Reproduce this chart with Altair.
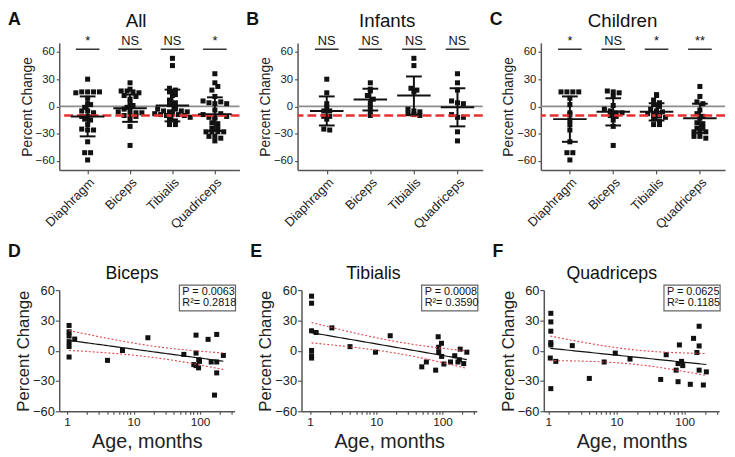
import json
import numpy as np
import pandas as pd
import altair as alt

FONT = "Liberation Sans"

# ---------------- data: group scatter panels ----------------
muscles = ["Diaphragm", "Biceps", "Tibialis", "Quadriceps"]
threshold = -10
sig_y = 63

inf_diaphragm = [30, 15, 3, -1, -5, -5, -11, -11, -14, -25, -26]
inf_biceps = [26, 19, 17, 12, 8, 4, -1, -6, -10]
inf_tibialis = [53, 45, 20, 18, 16, -3, -5, -6, -8, -9, -10]
inf_quadriceps = [36, 26, 18, 6, 4, 3, -9, -12, -12, -28, -38]

chi_diaphragm = [16, 16, 16, 16, 9, 2, -7, -9, -15, -20, -26, -39, -51, -51, -59]
chi_biceps = [17, 16, 15, 11, 1, -3, -5, -7, -7, -10, -11, -15, -22, -43]
chi_tibialis = [13, 12, 7, 4, 2, 0, -3, -5, -6, -8, -9, -10, -12, -14, -16, -20, -20]
chi_quadriceps = [22, 11, 5, 3, -4, -8, -11, -13, -18, -19, -24, -24, -28, -28, -28, -33, -33, -35]

all_mean = [-11, -2, 1, -8.5]
all_sd = [22, 15, 17.5, 18.5]
inf_mean = [-5, 7.5, 12, -1]
inf_sd = [16, 12, 21, 21]
chi_mean = [-14, -6, -6, -13]
chi_sd = [25, 15, 9.5, 16]

all_sig = ["*", "NS", "NS", "*"]
inf_sig = ["NS", "NS", "NS", "NS"]
chi_sig = ["*", "NS", "*", "**"]

# ---------------- data: regression panels ----------------
biceps_age = [1.07, 1.07, 1.07, 1.07, 1.07, 1.07, 1.3, 4.05, 6.8, 16.4, 57, 87, 87, 80.5, 87,
              95.5, 98, 95, 132, 147, 178, 178, 178, 165, 224]
biceps_pct = [25, 18.7, 14.5, 8.9, 4.1, -6.3, 11.5, -9.6, 0.2, 12.8, -3.7, 15.4, -2.4, -13.8, -14.8,
              -9, -10.6, -17, 11.2, -11.2, 16.1, -11.2, -22, -44, -4.7]

tibialis_age = [1.05, 1.05, 1.05, 1.23, 1.05, 1.05, 1.05, 2.13, 4.0, 9.7, 16.2, 48.6, 57, 78.7,
                86, 87.6, 96.6, 87.6, 97, 105, 132, 153, 171, 180, 185, 209, 233]
tibialis_pct = [54, 47, 19.7, 18, 0.2, -5, -7.3, 22.6, 4, -1.5, 14.8, -16, -11.2, -19.3,
                13.8, 3.4, 7.3, -1.5, -5.7, -13.2, -11.2, -5, -11.2, -9, 1.5, -12.8, -1.5]

quadriceps_age = [1.09, 1.09, 1.09, 1.09, 1.09, 1.07, 1.29, 1.09, 2.25, 4.0, 6.6, 9.6, 15.8, 44.5,
                  53.6, 83.7, 75, 80, 80, 90, 93.7, 135, 151, 163, 163, 163, 121, 188, 208]
quadriceps_pct = [37, 28.5, 19.3, 8, 5.7, -7.3, -10.6, -37.6, 5, -27.5, -11.2, -2.4, -8.3, -28.5,
                  -4, 5.7, -19.3, -12.8, -30.7, -10.6, -14.8, 12.2, -1.8, 24.2, 4.7, -19.3, -33.3, -34, -21]

stats_text = {
    "Biceps": ("P = 0.0063", "R\u00b2= 0.2818"),
    "Tibialis": ("P = 0.0008", "R\u00b2= 0.3590"),
    "Quadriceps": ("P = 0.0625", "R\u00b2= 0.1185"),
}

# ---------------- helpers ----------------
XMIN, XMAX = 0.33, 4.58
TOP_H = 129
BOT_H = 123
LABEL_EXPR = json.dumps(muscles) + "[datum.value - 1]"


def beeswarm_offsets(vals, bin_w=5.0, gap=6.0):
    vals = np.asarray(vals, float)
    keys = np.round(vals / bin_w).astype(int)
    off = np.zeros(len(vals))
    for k in np.unique(keys):
        ids = np.where(keys == k)[0]
        m = len(ids)
        for j, ii in enumerate(ids):
            off[ii] = (j - (m - 1) / 2) * gap
    return off


def text_layer(txt, x, y, size, weight="normal", align="left", baseline="top"):
    return alt.Chart(pd.DataFrame({"t": [txt]})).mark_text(
        font=FONT, fontSize=size, fontWeight=weight, align=align, baseline=baseline, color="#111"
    ).encode(text="t:N", x=alt.value(x), y=alt.value(y))


def top_panel(letter, title, title_dx, groups, means, sds, sigs, width):
    step = width / (XMAX - XMIN)
    rows = []
    for i, vals in enumerate(groups):
        for v, o in zip(vals, beeswarm_offsets(vals)):
            rows.append({"x": i + 1 + o / step, "y": v})
    pts = pd.DataFrame(rows)
    idx = np.arange(1, 5, dtype=float)
    means = np.asarray(means, float)
    sds = np.asarray(sds, float)
    mean_df = pd.DataFrame({"x": idx - 17 / step, "x2": idx + 17 / step, "y": means})
    sd_df = pd.DataFrame({"x": idx, "y": means - sds, "y2": means + sds})
    cidx = np.concatenate([idx, idx])
    cap_df = pd.DataFrame({"x": cidx - 8 / step, "x2": cidx + 8 / step,
                           "y": np.concatenate([means - sds, means + sds])})
    sig_df = pd.DataFrame({"x": idx - 12 / step, "x2": idx + 12 / step, "xc": idx,
                           "y": [sig_y] * 4, "t": sigs})

    xscale = alt.Scale(domain=[XMIN, XMAX], nice=False, zero=False)
    xaxis = alt.Axis(values=[1, 2, 3, 4], labelExpr=LABEL_EXPR, labelAngle=-45, labelFontSize=13,
                     tickSize=4, title=None)
    yscale = alt.Scale(domain=[-70, 70], nice=False, zero=False)
    yaxis = alt.Axis(values=[-60, -30, 0, 30, 60], title="Percent Change", titleFontSize=14,
                     labelFontSize=11.5, tickSize=3, labelPadding=2, titlePadding=1)

    def X(f="x"):
        return alt.X(f"{f}:Q", scale=xscale, axis=xaxis)

    def Y(f="y"):
        return alt.Y(f"{f}:Q", scale=yscale, axis=yaxis)

    zero = alt.Chart(pd.DataFrame({"y": [0]})).mark_rule(color="#8c8c8c", strokeWidth=1.8).encode(y=Y())
    red = alt.Chart(pd.DataFrame({"y": [threshold]})).mark_rule(
        color="#e53030", strokeWidth=2.5, strokeDash=[9, 4]).encode(y=Y())
    points = alt.Chart(pts).mark_square(size=26, color="#111", opacity=1).encode(x=X(), y=Y())
    mean_l = alt.Chart(mean_df).mark_rule(color="#111", strokeWidth=2).encode(
        x=X(), x2=alt.X2("x2"), y=Y())
    sd_l = alt.Chart(sd_df).mark_rule(color="#111", strokeWidth=2).encode(
        x=X(), y=Y(), y2=alt.Y2("y2"))
    cap_l = alt.Chart(cap_df).mark_rule(color="#111", strokeWidth=2).encode(
        x=X(), x2=alt.X2("x2"), y=Y())
    sig_l = alt.Chart(sig_df).mark_rule(color="#333", strokeWidth=1.5).encode(
        x=X(), x2=alt.X2("x2"), y=Y())
    sig_t = alt.Chart(sig_df).mark_text(font=FONT, fontSize=13, baseline="bottom", dy=-1, color="#111").encode(
        x=X("xc"), y=Y(), text="t:N")
    ttl = text_layer(title, title_dx, -16, 19, align="center", baseline="alphabetic")
    let = text_layer(letter, -52, -32, 18, weight="bold")
    return alt.layer(zero, points, red, mean_l, sd_l, cap_l, sig_l, sig_t, ttl, let).properties(
        width=width, height=TOP_H)


def reg_panel(letter, title, title_dx, ages, pcts, domain, width):
    ages = np.asarray(ages, float)
    pcts = np.asarray(pcts, float)
    lx = np.log10(ages)
    n = len(lx)
    slope, intercept = np.polyfit(lx, pcts, 1)
    resid = pcts - (intercept + slope * lx)
    s = np.sqrt(np.sum(resid ** 2) / (n - 2))
    sxx = np.sum((lx - lx.mean()) ** 2)
    g = np.linspace(lx.min(), lx.max(), 60)
    pred = intercept + slope * g
    se = s * np.sqrt(1.0 / n + (g - lx.mean()) ** 2 / sxx)
    tval = 2.06
    line_df = pd.DataFrame({"x": 10 ** g, "y": pred})
    band_df = pd.concat([
        pd.DataFrame({"x": 10 ** g, "y": pred + tval * se, "b": "upper"}),
        pd.DataFrame({"x": 10 ** g, "y": pred - tval * se, "b": "lower"}),
    ])
    pts = pd.DataFrame({"x": ages, "y": pcts})

    minor = [v for v in [1, 2, 3, 4, 5, 6, 7, 8, 9, 10, 20, 30, 40, 50, 60, 70, 80, 90, 100, 200, 300]
             if domain[0] <= v <= domain[1]]
    xscale = alt.Scale(type="log", domain=domain, nice=False)
    xaxis = alt.Axis(values=minor, format="d",
                     labelExpr="(datum.value == 1 || datum.value == 10 || datum.value == 100) ? datum.label : ''",
                     title="Age, months", titleFontSize=20, labelFontSize=12, tickSize=3,
                     titlePadding=5, labelFlush=False)
    yscale = alt.Scale(domain=[-60, 60], nice=False, zero=False)
    yaxis = alt.Axis(values=[-60, -30, 0, 30, 60], title="Percent Change", titleFontSize=17,
                     labelFontSize=13, tickSize=4, labelPadding=1, titlePadding=0)

    X = alt.X("x:Q", scale=xscale, axis=xaxis)
    Y = alt.Y("y:Q", scale=yscale, axis=yaxis)

    points = alt.Chart(pts).mark_square(size=26, color="#111", opacity=1).encode(x=X, y=Y)
    fit = alt.Chart(line_df).mark_line(color="#111", strokeWidth=1.2).encode(x=X, y=Y)
    band = alt.Chart(band_df).mark_line(color="#e0474c", strokeWidth=1.1, strokeDash=[2, 2]).encode(
        x=X, y=Y, detail="b:N")
    p_txt, r_txt = stats_text[title]
    box = alt.Chart(pd.DataFrame({"a": [0]})).mark_rect(
        fill="white", stroke="#666", strokeWidth=1.2).encode(
        x=alt.value(width - 56), x2=alt.value(width + 1), y=alt.value(-5), y2=alt.value(21))
    t1 = text_layer(p_txt, width - 53, 2, 11, baseline="middle")
    t2 = text_layer(r_txt, width - 53, 13, 11, baseline="middle")
    ttl = text_layer(title, title_dx, -11, 18, align="center", baseline="alphabetic")
    let = text_layer(letter, -52, -48, 18, weight="bold")
    return alt.layer(points, band, fit, box, t1, t2, ttl, let).properties(width=width, height=BOT_H)


A = top_panel("A", "All", 78,
              [inf_diaphragm + chi_diaphragm, inf_biceps + chi_biceps,
               inf_tibialis + chi_tibialis, inf_quadriceps + chi_quadriceps],
              all_mean, all_sd, all_sig, 183)
B = top_panel("B", "Infants", 91,
              [inf_diaphragm, inf_biceps, inf_tibialis, inf_quadriceps],
              inf_mean, inf_sd, inf_sig, 188)
C = top_panel("C", "Children", 83,
              [chi_diaphragm, chi_biceps, chi_tibialis, chi_quadriceps],
              chi_mean, chi_sd, chi_sig, 187)

D = reg_panel("D", "Biceps", 74, biceps_age, biceps_pct, [0.76, 330], 178)
E = reg_panel("E", "Tibialis", 73, tibialis_age, tibialis_pct, [0.74, 330], 178)
F = reg_panel("F", "Quadriceps", 69, quadriceps_age, quadriceps_pct, [0.86, 320], 178)

top = alt.hconcat(A, B, C, spacing=5)
bottom = alt.hconcat(D, E, F, spacing=14)

chart = alt.vconcat(top, bottom, spacing=11).properties(
    padding={"left": 0, "top": 0, "right": 0, "bottom": 0}
).configure_view(stroke=None).configure_axis(
    domainColor="#555", domainWidth=1.5, tickColor="#555", tickWidth=1.2,
    labelColor="#222", titleColor="#222", labelFont=FONT, titleFont=FONT,
    titleFontWeight="normal", grid=False, labelOverlap=False
)

chart.save("out.html", embed_options={"renderer": "svg", "actions": False})
